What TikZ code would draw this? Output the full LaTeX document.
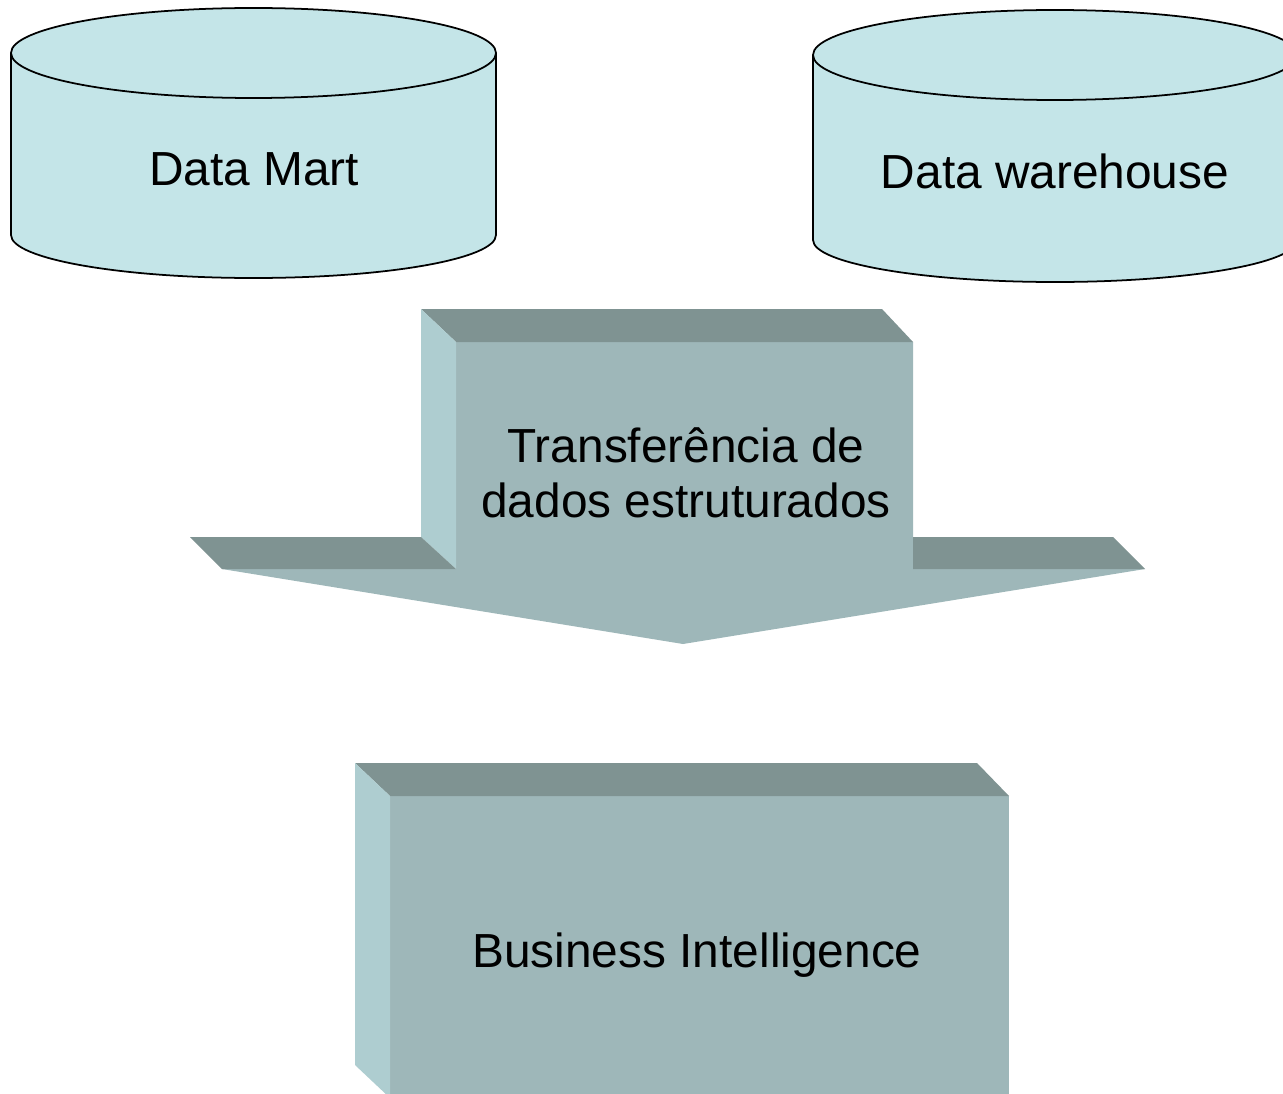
\documentclass[tikz,border=0pt]{standalone}
\usepackage{fontspec}
\setmainfont{Liberation Sans}
\definecolor{cylfill}{HTML}{C4E5E8}
\definecolor{boxfront}{HTML}{9EB7B9}
\definecolor{boxtop}{HTML}{7F9392}
\definecolor{boxside}{HTML}{AECDD0}
\begin{document}
\begin{tikzpicture}[x=0.01cm,y=0.01cm,
    lbl/.style={font=\fontsize{13.6}{15.6}\selectfont,inner sep=0pt,align=center},
    cyl/.style={fill=cylfill,draw=black,line width=0.5pt}]
    \useasboundingbox (0,0) rectangle (1283,1093);
    \clip (0,0) rectangle (1283,1093);
    % data mart
    \path[cyl] (11,1040) -- (11,858) arc[start angle=180,end angle=360,x radius=242.5,y radius=43] -- (496,1040);
    \path[cyl] (253.5,1040) ellipse [x radius=242.5,y radius=45];
    \node[lbl,anchor=base] (dm) at (254,908) {Data Mart};
    % data warehouse
    \path[cyl] (813,1038) -- (813,853) arc[start angle=180,end angle=360,x radius=242,y radius=42] -- (1297,1038);
    \path[cyl] (1055,1038) ellipse [x radius=242,y radius=45];
    \node[lbl,anchor=base] (dw) at (1055,905) {Data warehouse};
    % arrow
    \fill[boxfront] (456,751) -- (913,751) -- (913,524) -- (1145,524) -- (683,449) -- (222,524) -- (456,524) -- cycle;
    \fill[boxtop] (421,784) -- (882,784) -- (913,751) -- (456,751) -- cycle;
    \fill[boxside] (421,784) -- (456,751) -- (456,524) -- (421,556) -- cycle;
    \fill[boxtop] (190,556) -- (421,556) -- (456,524) -- (222,524) -- cycle;
    \fill[boxtop] (913,556) -- (1113,556) -- (1145,524) -- (913,524) -- cycle;
    \node[lbl,anchor=base] (tr) at (686,576) {Transferência de\\dados estruturados};
    % business intelligence
    \fill[boxfront] (390,297) rectangle (1009,-5);
    \fill[boxtop] (355,330) -- (977,330) -- (1009,297) -- (390,297) -- cycle;
    \fill[boxside] (355,330) -- (390,297) -- (390,-5) -- (355,28) -- cycle;
    \node[lbl,anchor=base] (bi) at (697,126) {Business Intelligence};
\end{tikzpicture}
\end{document}
